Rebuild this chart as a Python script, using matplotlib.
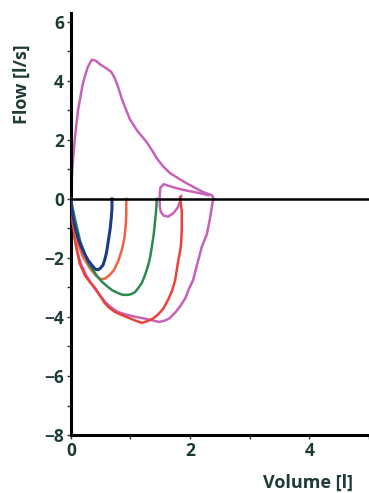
import matplotlib
matplotlib.use("Agg")
import matplotlib.pyplot as plt
from matplotlib.ticker import MultipleLocator

# ---- data (volume [l], flow [l/s]) ----
magenta_vol = [0, 0.01, 0.03, 0.07, 0.12, 0.2, 0.28, 0.35, 0.42, 0.49, 0.6, 0.68, 0.74, 0.8, 0.86,
               0.93, 0.99, 1.11, 1.2, 1.28, 1.37, 1.45, 1.55, 1.66, 1.8, 1.95, 2.08, 2.2, 2.3, 2.37,
               2.39, 2.37, 2.33, 2.28, 2.2, 2.12, 2.05, 1.98, 1.92, 1.84, 1.75, 1.65, 1.58, 1.48,
               1.38, 1.25, 1.1, 0.95, 0.85, 0.79, 0.69, 0.58, 0.48, 0.37, 0.26, 0.17, 0.1, 0.05, 0.02, 0]
magenta_flow = [0, 0.5, 1.2, 2.1, 3.0, 3.9, 4.45, 4.72, 4.68, 4.56, 4.42, 4.3, 4.08, 3.75, 3.36,
                3.0, 2.7, 2.32, 2.1, 1.9, 1.62, 1.35, 1.1, 0.88, 0.7, 0.52, 0.38, 0.25, 0.17, 0.12,
                0.03, -0.2, -0.7, -1.2, -1.6, -2.2, -2.75, -3.05, -3.36, -3.62, -3.85, -4.05, -4.12, -4.17,
                -4.12, -4.06, -4.0, -3.93, -3.87, -3.83, -3.7, -3.5, -3.25, -2.95, -2.6, -2.2, -1.75, -1.2, -0.6, 0]

magenta_small_vol = [2.3, 2.15, 1.95, 1.78, 1.63, 1.56, 1.5, 1.49, 1.49, 1.51, 1.56, 1.63, 1.72, 1.79, 1.83, 1.85]
magenta_small_flow = [0.13, 0.2, 0.28, 0.36, 0.45, 0.5, 0.38, 0.1, -0.25, -0.45, -0.57, -0.6, -0.48, -0.3, -0.1, 0.1]

red_vol = [1.83, 1.86, 1.86, 1.85, 1.83, 1.8, 1.75, 1.7, 1.63, 1.55, 1.46, 1.38, 1.3, 1.19,
           1.08, 0.96, 0.85, 0.74, 0.64, 0.57, 0.48, 0.4, 0.32, 0.24, 0.15, 0.08, 0.03, 0]
red_flow = [0.05, -0.4, -1.0, -1.5, -1.8, -2.1, -2.75, -3.1, -3.42, -3.72, -3.92, -4.05, -4.13, -4.2,
            -4.12, -4.02, -3.93, -3.83, -3.68, -3.53, -3.25, -3.0, -2.82, -2.6, -2.2, -1.5, -0.8, 0]

orange_vol = [0.93, 0.93, 0.92, 0.9, 0.86, 0.8, 0.72, 0.64, 0.57, 0.5, 0.42, 0.32, 0.2, 0.1, 0.04, 0]
orange_flow = [0.0, -0.5, -0.9, -1.3, -1.7, -2.08, -2.42, -2.6, -2.7, -2.72, -2.6, -2.35, -1.95, -1.4, -0.7, 0]

green_vol = [1.44, 1.43, 1.41, 1.39, 1.36, 1.33, 1.29, 1.24, 1.19, 1.13, 1.08, 1.02, 0.96, 0.87,
             0.79, 0.7, 0.62, 0.53, 0.45, 0.3, 0.16, 0.06, 0]
green_flow = [0.0, -0.4, -0.8, -1.2, -1.6, -1.97, -2.3, -2.6, -2.85, -3.02, -3.15, -3.22, -3.25, -3.25,
              -3.19, -3.1, -2.98, -2.82, -2.64, -2.2, -1.45, -0.6, 0]

blue_vol = [0.69, 0.69, 0.68, 0.66, 0.63, 0.6, 0.57, 0.54, 0.49, 0.45, 0.41, 0.35, 0.29, 0.24,
            0.17, 0.12, 0.07, 0.03, 0.01, 0]
blue_flow = [0.0, -0.3, -0.6, -1.0, -1.4, -1.8, -2.05, -2.24, -2.36, -2.4, -2.38, -2.24, -2.08, -1.9,
             -1.6, -1.32, -0.95, -0.54, -0.25, 0]

x_ticks = [0, 2, 4]
y_ticks = [-8, -6, -4, -2, 0, 2, 4, 6]
x_label = "Volume [l]"
y_label = "Flow [l/s]"

TXT = "#1e3b38"
plt.rcParams['font.family'] = ['Open Sans', 'DejaVu Sans']

fig = plt.figure(figsize=(3.69, 4.93), dpi=100)
ax = fig.add_axes([0.192, 0.1176, 0.808, 0.856])
ax.set_xlim(0, 5)
ax.set_ylim(-8, 6.3)

lw = 1.8
ax.plot(magenta_vol, magenta_flow, color="#c862b8", lw=lw, zorder=2)
ax.plot(magenta_small_vol, magenta_small_flow, color="#c862b8", lw=lw, zorder=2)
ax.plot(red_vol, red_flow, color="#ea4238", lw=lw, zorder=3)
ax.plot(orange_vol, orange_flow, color="#f2623e", lw=lw, zorder=3)
ax.plot(green_vol, green_flow, color="#2b8a50", lw=lw, zorder=4)
ax.plot(blue_vol, blue_flow, color="#1c3a86", lw=2.2, zorder=5)

ax.axhline(0, color="black", lw=1.8, zorder=6)

for s in ["top", "right"]:
    ax.spines[s].set_visible(False)
for s in ["left", "bottom"]:
    ax.spines[s].set_linewidth(2.2)
    ax.spines[s].set_color("black")

ax.set_xticks(x_ticks)
ax.set_yticks(y_ticks)
ax.xaxis.set_minor_locator(MultipleLocator(1))
ax.yaxis.set_minor_locator(MultipleLocator(1))
ax.tick_params(which="both", direction="out", length=3, width=1, color=TXT,
               labelsize=12.5, labelcolor=TXT, pad=2)
for lab in ax.get_xticklabels() + ax.get_yticklabels():
    lab.set_fontweight("bold")

fig.text(0.06, 0.83, y_label, rotation=90, ha="center", va="center",
         fontsize=13, fontweight="bold", color=TXT)
fig.text(0.835, 0.02, x_label, ha="center", va="center",
         fontsize=13, fontweight="bold", color=TXT)

fig.savefig("out.png", dpi=100, facecolor="white")
